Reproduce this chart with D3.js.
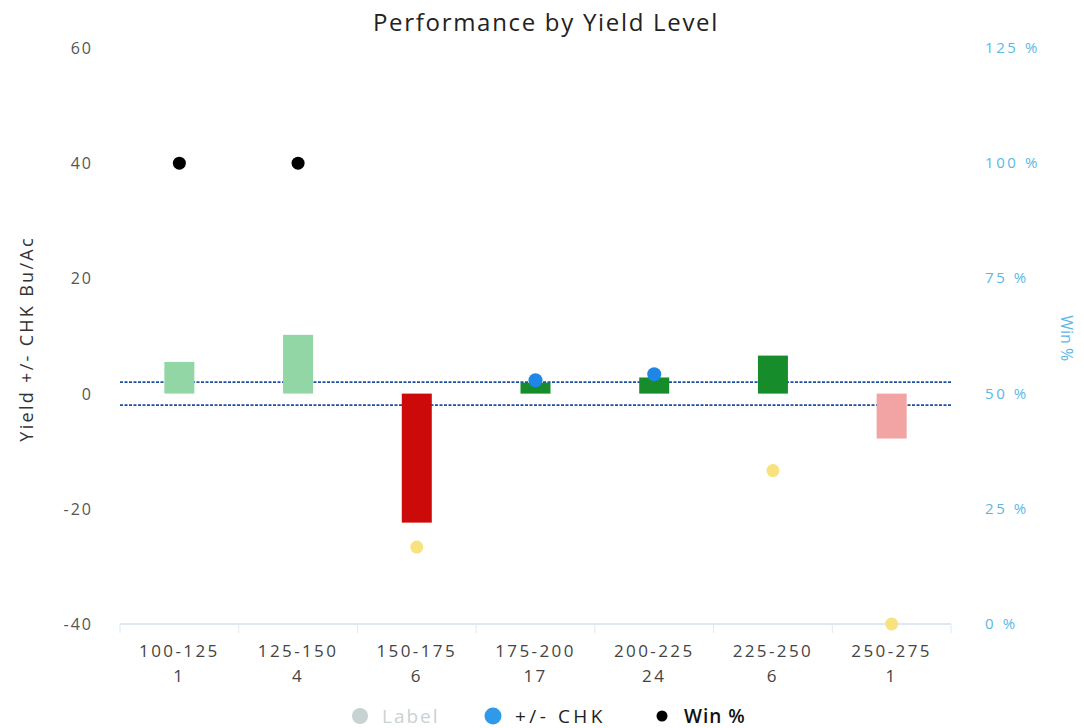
<!DOCTYPE html>
<html lang="en">
<head>
    <meta charset="UTF-8">
    <title>Performance by Yield Level</title>
    <script src="https://d3js.org/d3.v7.min.js"></script>
    <style>
        body { margin: 0; background: #fff; }
        text { font-family: "Open Sans", sans-serif; }
    </style>
</head>
<body>

<div id="chart"></div>

<script>
    // data
    var categories = ["100-125", "125-150", "150-175", "175-200", "200-225", "225-250", "250-275"];
    var counts = [1, 4, 6, 17, 24, 6, 1];
    var yieldDiff = [5.5, 10.2, -22.4, 1.9, 2.8, 6.6, -7.8];
    var winPct = [100, 100, 16.7, 52.9, 54.2, 33.3, 0];
    var barColors = ["#93d6a6", "#93d6a6", "#cc0a0a", "#178c2b", "#178c2b", "#178c2b", "#f2a3a3"];
    var winColors = ["#000000", "#000000", "#f8e27e", "#1f86e6", "#1f86e6", "#f8e27e", "#f8e27e"];
    var leftTicks = [-40, -20, 0, 20, 40, 60];
    var rightTicks = [0, 25, 50, 75, 100, 125];
    var refLines = [2, -2];

    var W = 1084, H = 728;
    var margin = {top: 48, right: 133, bottom: 104, left: 120},
        width = W - margin.left - margin.right,
        height = H - margin.top - margin.bottom;

    var root = d3.select("#chart").append("svg")
        .attr("width", W)
        .attr("height", H);

    root.append("text")
        .attr("x", 546).attr("y", 31)
        .attr("text-anchor", "middle")
        .style("font-size", "24px")
        .style("letter-spacing", "1.7px")
        .style("fill", "#222")
        .text("Performance by Yield Level");

    var svg = root.append("g")
        .attr("transform", "translate(" + margin.left + "," + margin.top + ")");

    var x = d3.scaleBand().domain(categories).range([0, width]);
    var y = d3.scaleLinear().domain([-40, 60]).range([height, 0]);
    var y2 = d3.scaleLinear().domain([0, 125]).range([height, 0]);

    // x axis line + ticks between bands
    var xAxis = svg.append("g")
        .attr("transform", "translate(0," + height + ")");
    xAxis.append("line")
        .attr("x1", 0).attr("x2", width)
        .attr("stroke", "#dce8f2").attr("stroke-width", 2);
    xAxis.selectAll(".tk")
        .data(categories.concat([null]))
        .enter().append("line")
        .attr("x1", function (d, i) { return i * x.step(); })
        .attr("x2", function (d, i) { return i * x.step(); })
        .attr("y1", 0).attr("y2", 9)
        .attr("stroke", "#e2e8ee");
    var lbl = xAxis.selectAll(".lbl")
        .data(categories)
        .enter().append("text")
        .attr("text-anchor", "middle")
        .style("font-size", "17px")
        .style("letter-spacing", "2.4px")
        .style("fill", "#444");
    lbl.append("tspan")
        .attr("x", function (d) { return x(d) + x.bandwidth() / 2; })
        .attr("y", 33)
        .text(function (d) { return d; });
    lbl.append("tspan")
        .attr("x", function (d) { return x(d) + x.bandwidth() / 2; })
        .attr("y", 58)
        .text(function (d, i) { return counts[i]; });

    // left axis
    svg.append("g").selectAll("text")
        .data(leftTicks)
        .enter().append("text")
        .attr("x", -27)
        .attr("y", function (d) { return y(d) + 6; })
        .attr("text-anchor", "end")
        .style("font-size", "16px")
        .style("letter-spacing", "2px")
        .style("fill", "#555")
        .text(function (d) { return d; });

    svg.append("text")
        .attr("transform", "translate(" + (-87) + "," + y(9.5) + ") rotate(-90)")
        .attr("text-anchor", "middle")
        .style("font-size", "18px")
        .style("letter-spacing", "2.3px")
        .style("fill", "#333")
        .text("Yield +/- CHK Bu/Ac");

    // right axis
    svg.append("g").selectAll("text")
        .data(rightTicks)
        .enter().append("text")
        .attr("x", width + 34)
        .attr("y", function (d) { return y2(d) + 5; })
        .style("font-size", "15px")
        .style("letter-spacing", "2.6px")
        .style("fill", "#5bb8e6")
        .text(function (d) { return d + " %"; });

    svg.append("text")
        .attr("transform", "translate(" + (width + 110) + "," + y2(62) + ") rotate(90)")
        .attr("text-anchor", "middle")
        .style("font-size", "16px")
        .style("fill", "#5bb8e6")
        .text("Win %");

    // reference lines
    svg.selectAll(".ref")
        .data(refLines)
        .enter().append("line")
        .attr("x1", 0).attr("x2", width)
        .attr("y1", function (d) { return y(d); })
        .attr("y2", function (d) { return y(d); })
        .attr("stroke", "#1d4fa3")
        .attr("stroke-width", 1.6)
        .attr("stroke-dasharray", "3,1.5");

    // bars
    var bw = 30;
    svg.selectAll(".bar")
        .data(yieldDiff)
        .enter().append("rect")
        .attr("x", function (d, i) { return x(categories[i]) + x.bandwidth() / 2 - bw / 2; })
        .attr("y", function (d) { return y(Math.max(0, d)); })
        .attr("width", bw)
        .attr("height", function (d) { return Math.abs(y(d) - y(0)); })
        .attr("fill", function (d, i) { return barColors[i]; });

    // win % points
    svg.selectAll(".win")
        .data(winPct)
        .enter().append("circle")
        .attr("cx", function (d, i) { return x(categories[i]) + x.bandwidth() / 2; })
        .attr("cy", function (d) { return y2(d); })
        .attr("r", function (d, i) { return winColors[i] === "#1f86e6" ? 7 : 6.5; })
        .attr("fill", function (d, i) { return winColors[i]; });

    // legend
    var legend = root.append("g").attr("transform", "translate(0,716)");
    var items = [
        {name: "Label", color: "#c6d3d2", r: 8, x: 360, text: "#c9d2d2", weight: 400, ls: 2},
        {name: "+/- CHK", color: "#2f9be8", r: 8.5, x: 493, text: "#222", weight: 400, ls: 3.5},
        {name: "Win %", color: "#000", r: 5.5, x: 662, text: "#111", weight: 600, ls: 1}
    ];
    legend.selectAll("circle")
        .data(items)
        .enter().append("circle")
        .attr("cx", function (d) { return d.x; })
        .attr("cy", 0)
        .attr("r", function (d) { return d.r; })
        .attr("fill", function (d) { return d.color; });
    legend.selectAll("text")
        .data(items)
        .enter().append("text")
        .attr("x", function (d) { return d.x + 22; })
        .attr("y", 7)
        .style("font-size", "19px")
        .style("letter-spacing", function (d) { return d.ls + "px"; })
        .style("font-weight", function (d) { return d.weight; })
        .style("fill", function (d) { return d.text; })
        .text(function (d) { return d.name; });
</script>

</body>
</html>
